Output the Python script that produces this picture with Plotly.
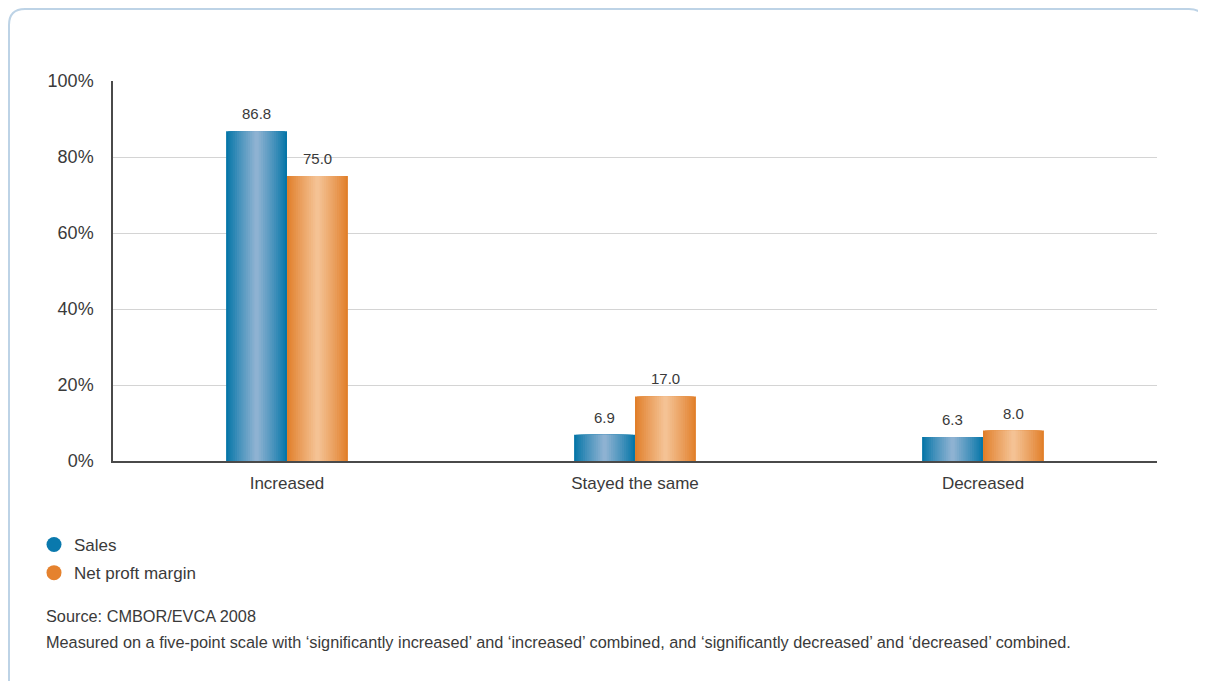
import plotly.graph_objects as go

categories = ["Increased", "Stayed the same", "Decreased"]
sales = [86.8, 6.9, 6.3]
net_profit = [75.0, 17.0, 8.0]
series_names = ["Sales", "Net proft margin"]
y_ticks = [0, 20, 40, 60, 80, 100]
y_tick_labels = ["0%", "20%", "40%", "60%", "80%", "100%"]
source_lines = [
    "Source: CMBOR/EVCA 2008",
    "Measured on a five-point scale with \u2018significantly increased\u2019 and \u2018increased\u2019 combined, and \u2018significantly decreased\u2019 and \u2018decreased\u2019 combined.",
]

FONT = "Liberation Sans, Arial, sans-serif"
TXT = "#3a3a3a"

OFF = 8  # page body margin
W, H = 1206 - OFF, 681 - OFF
# plot area in page pixels
P_L, P_R, P_T, P_B = 113, 1157, 81, 461
ML, MR, MT, MB = P_L - OFF, W - (P_R - OFF), P_T - OFF, H - (P_B - OFF)
PW, PH = P_R - P_L, P_B - P_T


def px2x(px):
    return (px - P_L) / PW


def py2y(py):
    return (P_B - py) / PH


def lerp(c1, c2, t):
    return "rgb(%d,%d,%d)" % tuple(round(a + (b - a) * t) for a, b in zip(c1, c2))


blue_edge, blue_mid = (6, 118, 168), (142, 178, 210)
orange_edge, orange_mid = (225, 127, 42), (244, 194, 148)

xs = list(range(len(categories)))
bw = 0.175
K = 14

fig = go.Figure()
for vals, off, edge, mid in [(sales, -bw, blue_edge, blue_mid), (net_profit, 0.0, orange_edge, orange_mid)]:
    for k in range(K):
        frac = 1 - k / K
        w = bw * frac
        o = off + (bw - w) / 2
        t = (k / (K - 1)) ** 0.9
        fig.add_trace(go.Bar(
            x=xs, y=vals, width=[w] * len(xs), offset=[o] * len(xs),
            marker=dict(color=lerp(edge, mid, t), line=dict(width=0)),
            showlegend=False, hoverinfo="skip",
        ))
    for xi, v in zip(xs, vals):
        fig.add_annotation(x=xi + off + bw / 2, y=v, xref="x", yref="y",
                           text="%.1f" % v, showarrow=False, yanchor="bottom",
                           yshift=7, font=dict(size=15, color=TXT, family=FONT))

for name, col in zip(series_names, ["#0a79ad", "#e5822e"]):
    fig.add_trace(go.Scatter(
        x=[None], y=[None], mode="markers", name=name, legendgroup=name,
        marker=dict(symbol="circle", size=15, color=col),
    ))

fig.update_layout(
    width=W, height=H,
    margin=dict(l=ML, r=MR, t=MT, b=MB),
    paper_bgcolor="white", plot_bgcolor="white",
    barmode="overlay",
    font=dict(family=FONT, color=TXT, size=17),
    showlegend=True,
    legend=dict(x=px2x(34), y=py2y(527), xanchor="left", yanchor="top",
                font=dict(size=17, color=TXT, family=FONT), tracegroupgap=3,
                bgcolor="rgba(0,0,0,0)"),
    xaxis=dict(tickvals=xs, ticktext=categories, range=[-0.5, 2.5],
               showline=True, linecolor="#4a4a4a", linewidth=1.5,
               showgrid=False, zeroline=False, ticks="", ticklabelstandoff=6,
               tickfont=dict(size=17, color=TXT, family=FONT), fixedrange=True),
    yaxis=dict(range=[0, 100], tickvals=y_ticks, ticktext=y_tick_labels,
               showline=True, linecolor="#4a4a4a", linewidth=1.5,
               showgrid=True, gridcolor="#d4d4d4", gridwidth=1, zeroline=False,
               ticks="", ticklabelstandoff=14,
               tickfont=dict(size=18, color=TXT, family=FONT), fixedrange=True),
)

# rounded frame (page coords)
L, T, R, B, r = 9, 9, 1205, 700, 16
path = (f"M {px2x(L)},{py2y(B)} L {px2x(L)},{py2y(T + r)} "
        f"Q {px2x(L)},{py2y(T)} {px2x(L + r)},{py2y(T)} "
        f"L {px2x(R - r)},{py2y(T)} Q {px2x(R)},{py2y(T)} {px2x(R)},{py2y(T + r)} "
        f"L {px2x(R)},{py2y(T + r + 10)}")
fig.add_shape(type="path", path=path, xref="paper", yref="paper",
              line=dict(color="#bdd3e6", width=2), layer="below")

for i, line in enumerate(source_lines):
    fig.add_annotation(x=px2x(44), y=py2y(616 + 26 * i), xref="paper", yref="paper",
                       text=line, showarrow=False, xanchor="left", yanchor="middle",
                       font=dict(size=16.3, color=TXT, family=FONT))

fig.write_html("out.html")
